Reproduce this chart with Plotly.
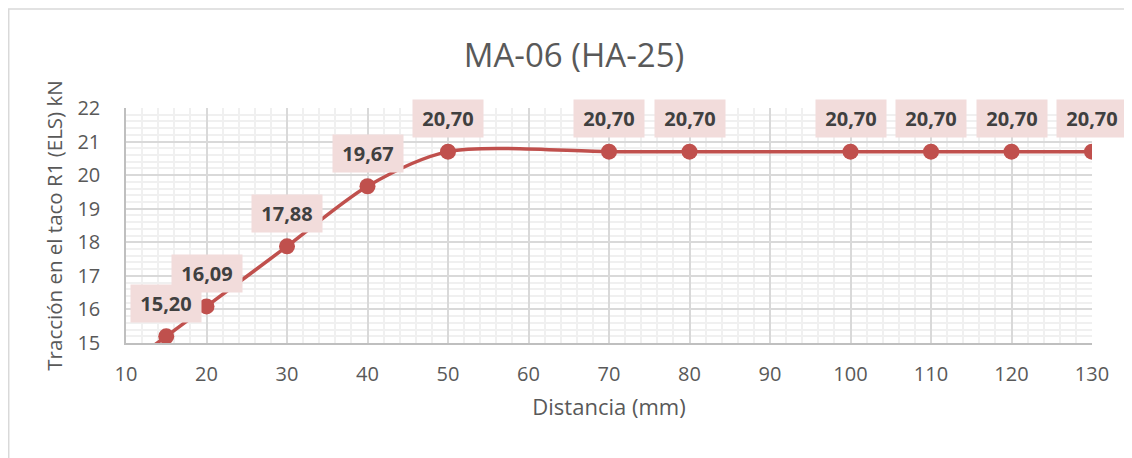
import plotly.graph_objects as go

distancia = [10, 15, 20, 30, 40, 50, 70, 80, 100, 110, 120, 130]
traccion = [14.31, 15.20, 16.09, 17.88, 19.67, 20.70, 20.70, 20.70, 20.70, 20.70, 20.70, 20.70]
etiquetas = ["", "15,20", "16,09", "17,88", "19,67", "20,70", "20,70", "20,70", "20,70", "20,70", "20,70", "20,70"]

FONT = "Open Sans"
RED = "#C0504D"

fig = go.Figure()
fig.add_trace(go.Scatter(
    x=distancia, y=traccion, mode="lines+markers",
    line=dict(color=RED, width=3.5, shape="spline", smoothing=0.8),
    marker=dict(color=RED, size=16),
    cliponaxis=True, showlegend=False, hoverinfo="skip",
))

for xv, yv, t in zip(distancia, traccion, etiquetas):
    if not t:
        continue
    fig.add_annotation(
        x=xv, y=yv, text="<b>" + t + "</b>", showarrow=False,
        yshift=33, bgcolor="#F2DCDB", borderpad=0, width=70, height=37,
        font=dict(family=FONT, size=20, color="#404040"),
    )

fig.add_shape(type="rect", xref="paper", yref="paper",
              x0=-0.1214, x1=1.06, y0=-0.6, y1=1.4213,
              line=dict(color="#D9D9D9", width=1.5), layer="below")

fig.update_layout(
    width=1124, height=450,
    margin=dict(l=118, r=40, t=100, b=115),
    paper_bgcolor="white", plot_bgcolor="white",
    title=dict(text="MA-06 (HA-25)", x=0.5036, xanchor="center", y=0.8956, yanchor="middle",
               font=dict(family=FONT, size=33, color="#595959")),
    font=dict(family=FONT, color="#595959"),
)
fig.update_xaxes(
    range=[10, 130], dtick=10, tick0=10,
    showgrid=True, gridcolor="#D9D9D9", gridwidth=1.5,
    minor=dict(dtick=2, showgrid=True, gridcolor="#F0F0F0", gridwidth=2),
    showline=True, linecolor="#BFBFBF", linewidth=1.5,
    ticks="", tickfont=dict(family=FONT, size=20, color="#595959"),
    ticklabelstandoff=12,
    title=dict(text="Distancia (mm)", font=dict(family=FONT, size=22, color="#595959"), standoff=14),
    zeroline=False,
)
fig.update_yaxes(
    range=[15, 22], dtick=1,
    showgrid=True, gridcolor="#D9D9D9", gridwidth=1.5,
    minor=dict(dtick=0.2, showgrid=True, gridcolor="#F0F0F0", gridwidth=2),
    showline=True, linecolor="#BFBFBF", linewidth=1.5,
    ticks="", tickfont=dict(family=FONT, size=20, color="#595959"),
    ticklabelstandoff=20,
    title=dict(text="Tracción en el taco R1 (ELS) kN", font=dict(family=FONT, size=20.5, color="#595959"), standoff=9),
    zeroline=False,
)

fig.write_html("out.html")
